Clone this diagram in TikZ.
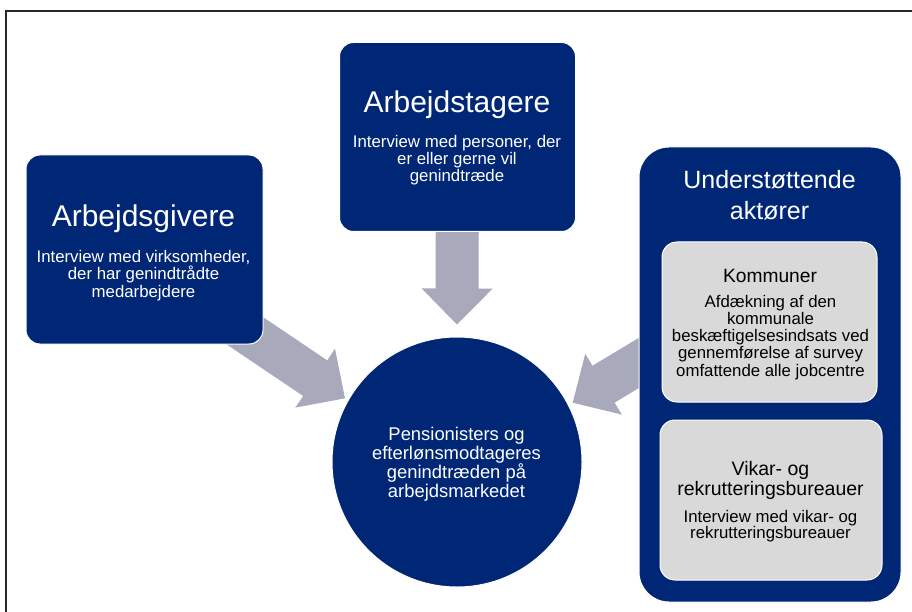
\documentclass[tikz,border=0pt]{standalone}
\usepackage{fontspec}
\setmainfont{Liberation Sans}
\usetikzlibrary{calc,backgrounds}
\definecolor{navy}{RGB}{0,39,118}
\definecolor{arrowgray}{RGB}{168,170,188}
\definecolor{boxgray}{RGB}{217,217,217}
\definecolor{framegray}{RGB}{40,40,40}
\newcommand\blockarr[2]{%
  \coordinate (#2h) at ($(#2)!36pt!(#1)$);
  \fill[arrowgray] ($(#1)!21.5pt!-90:(#2)$) -- ($(#2h)!21.5pt!90:(#1)$) -- ($(#2h)!35.5pt!90:(#1)$) -- (#2) -- ($(#2h)!35.5pt!-90:(#1)$) -- ($(#2h)!21.5pt!-90:(#1)$) -- ($(#1)!21.5pt!90:(#2)$) -- cycle;}
\begin{document}
\begin{tikzpicture}[x=1pt,y=-1pt,
  navybox/.style={draw=white, line width=1pt, fill=navy, rounded corners=14pt, inner sep=0pt},
  graybox/.style={draw=white, line width=1pt, fill=boxgray, rounded corners=15pt, inner sep=0pt},
  bigtitle/.style={font=\fontsize{30}{34}\selectfont, text=white, anchor=base, align=center},
  wsub/.style={font=\fontsize{16.8}{17.5}\selectfont, text=white, anchor=base, align=center},
  gtitle/.style={font=\fontsize{19.5}{20}\selectfont, text=black, anchor=base, align=center},
  gsub/.style={font=\fontsize{16.8}{17.2}\selectfont, text=black, anchor=base, align=center}]
\useasboundingbox (0,0) rectangle (912,612);
\draw[line width=1.4pt, framegray] (912,11) -- (6,11) -- (6,612);
% boxes
\node[navybox, minimum width=237pt, minimum height=189pt] (givere) at (144.5,249.5) {};
\node[navybox, minimum width=236pt, minimum height=189pt] (tagere) at (457.5,137) {};
\node[navybox, rounded corners=30pt, minimum width=262pt, minimum height=455pt] (unders) at (770,374.5) {};
\node[graybox, minimum width=215pt, minimum height=160pt] (kommuner) at (769.5,322) {};
\node[graybox, minimum width=222pt, minimum height=160pt] (vikar) at (771,500) {};
\node[circle, fill=navy, draw=white, line width=1pt, minimum size=250pt, inner sep=0pt] (circ) at (457,462) {};
% arrows
\coordinate (srcL) at ($(givere.center)+(34.7,37)$);
\coordinate (tipL) at ($(circ.center)+(-112,-63.7)$);
\coordinate (srcD) at (tagere.center);
\coordinate (tipD) at ($(circ.north)+(0,-12)$);
\coordinate (srcR) at ($(unders.center)+(-68.7,-49.1)$);
\coordinate (tipR) at ($(circ.center)+(115.7,-59.3)$);
\begin{scope}[on background layer]
\blockarr{srcL}{tipL}
\blockarr{srcD}{tipD}
\blockarr{srcR}{tipR}
\end{scope}
% texts (anchor=base: baseline of the last line)
\node[bigtitle] (tagT) at (457,113) {Arbejdstagere};
\node[wsub, font=\fontsize{16.8}{17}\selectfont] (tagS) at (457,182) {Interview med personer, der\\er eller gerne vil\\genindtræde};
\node[bigtitle] (givT) at (143.5,227) {Arbejdsgivere};
\node[wsub] (givS) at (143.5,297) {Interview med virksomheder,\\der har genindtrådte\\medarbejdere};
\node[bigtitle, font=\fontsize{25}{31}\selectfont] (undT) at (769.5,220) {Understøttende\\aktører};
\node[gtitle, font=\fontsize{19.2}{20}\selectfont] (komT) at (770,282) {Kommuner};
\node[gsub] (komS) at (770.5,376) {Afdækning af den\\kommunale\\beskæftigelsesindsats ved\\gennemførelse af survey\\omfattende alle jobcentre};
\node[gtitle] (vikT) at (770.5,495) {Vikar- og\\rekrutteringsbureauer};
\node[gsub, font=\fontsize{16.8}{16.5}\selectfont] (vikS) at (770.5,538.5) {Interview med vikar- og\\rekrutteringsbureauer};
\node[wsub, font=\fontsize{18.4}{19}\selectfont] (circT) at (456.5,497) {Pensionisters og\\efterlønsmodtageres\\genindtræden på\\arbejdsmarkedet};
\end{tikzpicture}
\end{document}
